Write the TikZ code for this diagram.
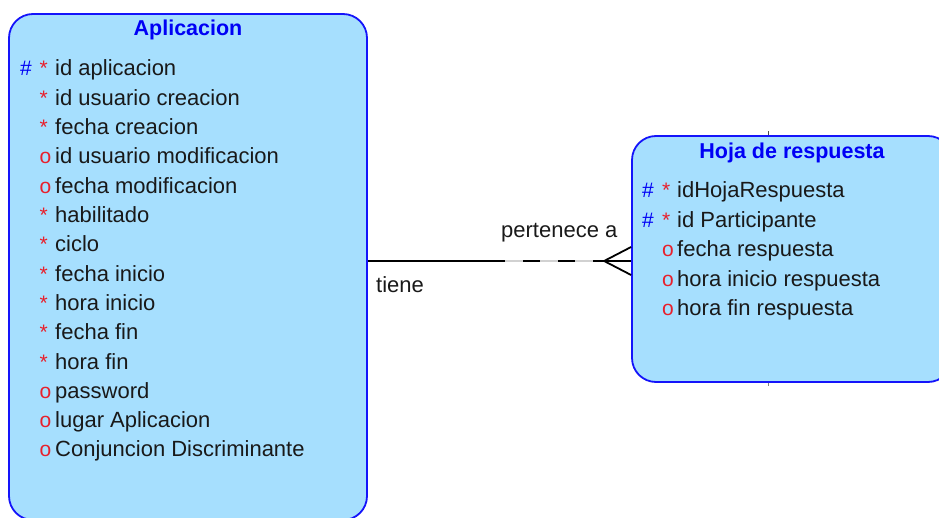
\documentclass[tikz,border=0pt]{standalone}
\usepackage{fontspec}
\setmainfont{Liberation Sans}
\usetikzlibrary{calc}
\definecolor{entfill}{RGB}{166,223,254}
\definecolor{entline}{RGB}{20,20,250}
\definecolor{keyblue}{RGB}{0,0,245}
\definecolor{optred}{RGB}{232,32,44}
\definecolor{txt}{RGB}{25,25,25}
\tikzset{
  entity/.style={draw=entline, line width=1.8pt, fill=entfill, rounded corners=24pt, inner sep=0pt},
  etitle/.style={anchor=base, inner sep=0pt, text=keyblue, font=\fontsize{21.5}{24}\selectfont\bfseries},
  attr/.style={anchor=base west, inner sep=0pt, text=txt, font=\fontsize{22}{24}\selectfont},
  pk/.style={anchor=base west, inner sep=0pt, text=keyblue, font=\fontsize{21}{24}\selectfont},
  mand/.style={anchor=base west, inner sep=0pt, text=optred, font=\fontsize{21}{24}\selectfont},
  rel/.style={line width=1.8pt, draw=black},
  rlabel/.style={anchor=base west, inner sep=0pt, text=txt, font=\fontsize{22}{24}\selectfont}
}
\begin{document}
\begin{tikzpicture}[x=1pt, y=-1pt]
\useasboundingbox (0,0) rectangle (939,518);

% entities
\node[entity, minimum width=358pt, minimum height=506pt] (apl) at (188,267) {};
\node[entity, minimum width=320pt, minimum height=246pt] (hoja) at (792,259) {};

% small stubs above and below the second entity
\draw[line width=1pt, black!70] (768,131.5) -- (768,135);
\draw[line width=1pt, black!50] (768,383) -- (768,386);

% Aplicacion
\node[etitle] (aplt) at (188,36) {Aplicacion};
\node[pk] (ap1h) at (20,76) {\#};
\foreach \i/\s/\t in {
  0/*/id aplicacion,
  1/*/id usuario creacion,
  2/*/fecha creacion,
  3/o/id usuario modificacion,
  4/o/fecha modificacion,
  5/*/habilitado,
  6/*/ciclo,
  7/*/fecha inicio,
  8/*/hora inicio,
  9/*/fecha fin,
  10/*/hora fin,
  11/o/password,
  12/o/lugar Aplicacion,
  13/o/Conjuncion Discriminante}{
  \pgfmathsetmacro{\yy}{76+29.3*\i}
  \node[mand] (aps\i) at (39.5,\yy) {\s};
  \node[attr] (apa\i) at (55,\yy) {\t};
}

% Hoja de respuesta
\node[etitle] (hojt) at (792,159) {Hoja de respuesta};
\node[pk] (hh1) at (642,198) {\#};
\node[pk] (hh2) at (642,227.5) {\#};
\foreach \i/\s/\t in {
  0/*/idHojaRespuesta,
  1/*/id Participante,
  2/o/fecha respuesta,
  3/o/hora inicio respuesta,
  4/o/hora fin respuesta}{
  \pgfmathsetmacro{\yy}{198+29.5*\i}
  \node[mand] (hs\i) at (662,\yy) {\s};
  \node[attr] (ha\i) at (677,\yy) {\t};
}

% relationship
\coordinate (lvl) at (0,261);
\coordinate (ra) at (apl.east |- lvl);
\coordinate (rb) at (hoja.west |- lvl);
\coordinate (mid) at (505,261);
\coordinate (apex) at ($(rb)+(-27,0)$);
\draw[line width=1.2pt, black!18] (mid) -- (rb);
\draw[rel] (ra) -- (mid);
\draw[rel, dash pattern=on 17pt off 18pt, dash phase=17pt] (mid) -- (apex);
\draw[rel, line join=miter] ($(rb)+(0,-14)$) -- (apex) -- ($(rb)+(0,14)$);
\draw[rel] (apex) -- (rb);

\node[rlabel] (l1) at (501,238) {pertenece a};
\node[rlabel] (l2) at (376,293) {tiene};
\end{tikzpicture}
\end{document}
